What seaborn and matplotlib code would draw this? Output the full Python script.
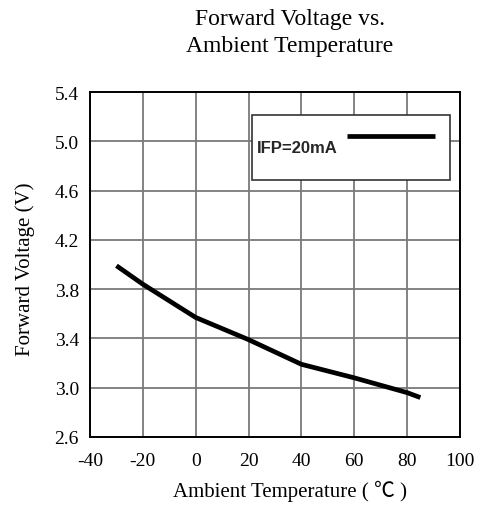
import numpy as np
import pandas as pd
import matplotlib
matplotlib.use("Agg")
import matplotlib.pyplot as plt
import seaborn as sns

# 数据
temps = [-30, -20, 0, 20, 40, 60, 80, 85]
volts = [3.99, 3.84, 3.57, 3.39, 3.19, 3.08, 2.96, 2.92]
series_label = "IFP=20mA"
x_ticks = [-40, -20, 0, 20, 40, 60, 80, 100]
y_ticks = [2.6, 3.0, 3.4, 3.8, 4.2, 4.6, 5.0, 5.4]

sns.set_theme(style="white")
plt.rcParams["font.family"] = ["Liberation Serif", "Noto Sans CJK SC"]
plt.rcParams["axes.unicode_minus"] = False

df = pd.DataFrame({"temp": temps, "vf": volts})

fig = plt.figure(figsize=(4.78, 5.06), dpi=100)
ax = fig.add_axes([0.1883, 0.1344, 0.774, 0.6818])

sns.lineplot(data=df, x="temp", y="vf", color="black", linewidth=3.4,
             label=series_label, ax=ax, solid_capstyle="butt")

ax.set_xlim(x_ticks[0], x_ticks[-1])
ax.set_ylim(y_ticks[0], y_ticks[-1])
ax.set_xticks(x_ticks)
ax.set_yticks(y_ticks)
ax.set_xticklabels([str(v) for v in x_ticks])
ax.set_yticklabels([f"{v:.1f}" for v in y_ticks])
ax.tick_params(axis="both", length=0, labelsize=14, colors="black")
ax.tick_params(axis="x", pad=11)
ax.tick_params(axis="y", pad=8)

ax.grid(True, color="#7a7a7a", linewidth=1.3)
ax.set_axisbelow(True)
for s in ax.spines.values():
    s.set_color("black")
    s.set_linewidth(1.4)

ax.set_xlabel("Ambient Temperature ( ℃ )", fontsize=15, color="black")
ax.set_ylabel("Forward Voltage (V)", fontsize=15, color="black")
ax.xaxis.set_label_coords(0.54, -0.125)
ax.yaxis.set_label_coords(-0.15, 0.49)

# 图例
leg = ax.legend(loc="upper left", bbox_to_anchor=(0.438, 0.742, 0.535, 0.191),
                mode="expand", borderaxespad=0, markerfirst=False,
                handlelength=5.3, handletextpad=0.55, handleheight=4.7,
                borderpad=0.3, fancybox=False, framealpha=1,
                prop={"family": "Liberation Sans", "weight": "bold", "size": 12})
leg.get_frame().set_edgecolor("#333333")
leg.get_frame().set_linewidth(1.2)

fig.text(290 / 478, 1 - 9 / 506, "Forward Voltage vs.\nAmbient Temperature",
         ha="center", va="top", fontsize=17, linespacing=1.4, color="black")

fig.savefig("out.png", dpi=100)
